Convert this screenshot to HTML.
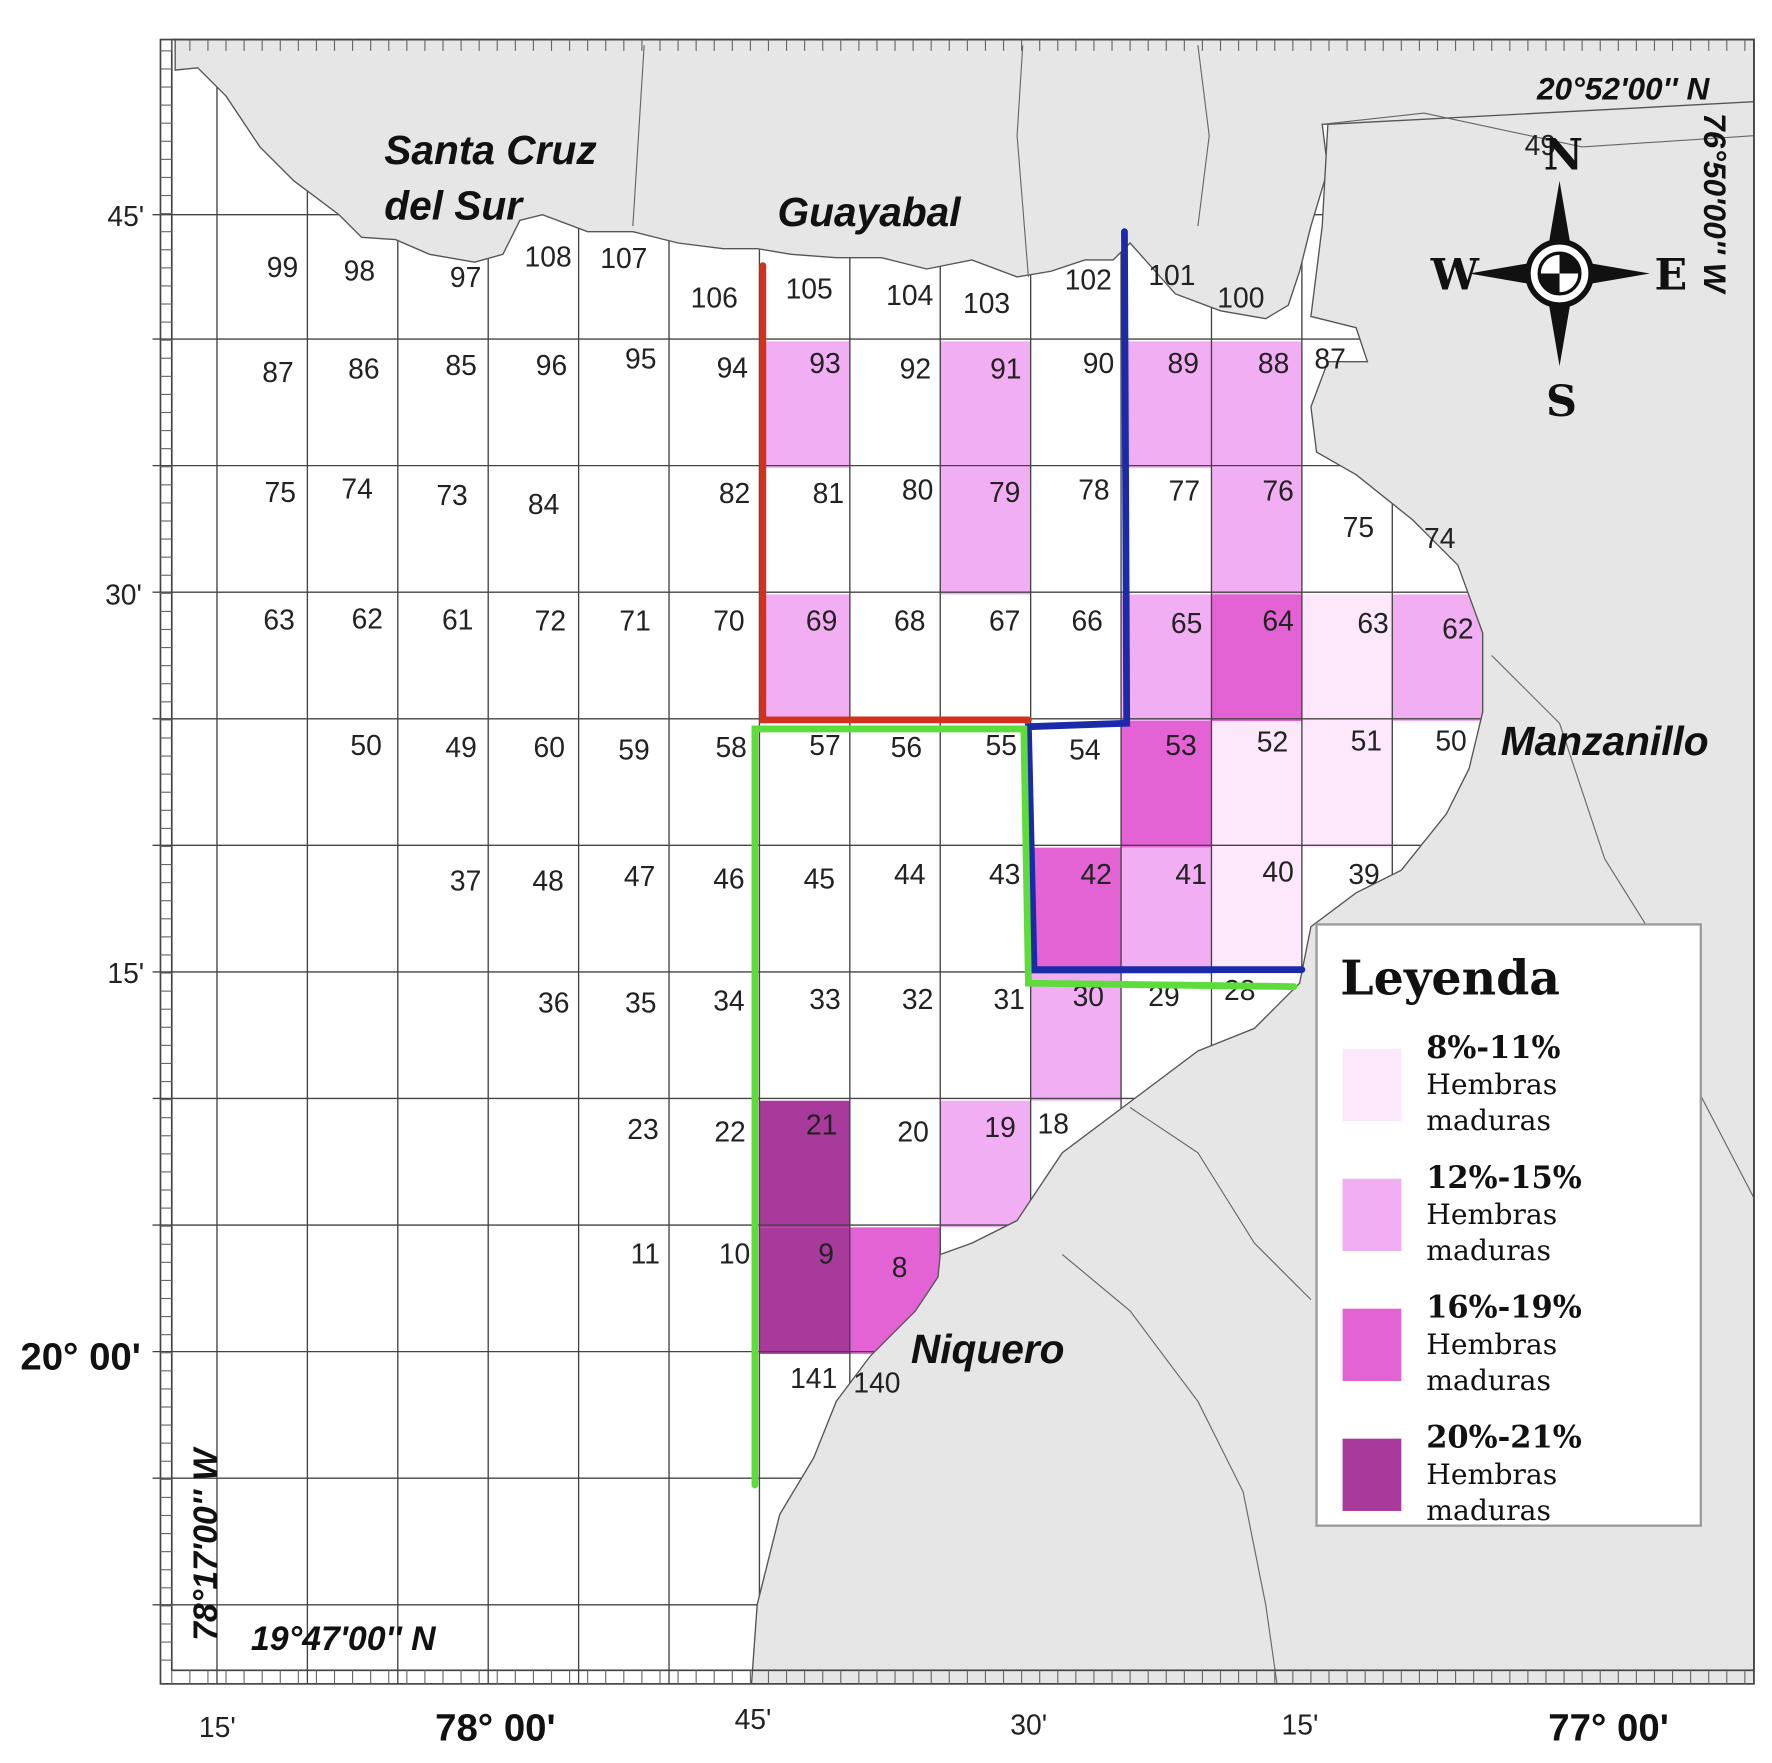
<!DOCTYPE html>
<html><head><meta charset="utf-8"><style>
html,body{margin:0;padding:0;background:#fff;}
svg{display:block;}
.num{font-family:"Liberation Sans",sans-serif;font-size:25px;fill:#222;text-anchor:middle;}
.place{font-family:"Liberation Sans",sans-serif;font-weight:bold;font-style:italic;font-size:36px;fill:#111;}
.ax{font-family:"Liberation Sans",sans-serif;font-size:25px;fill:#222;}
.axb{font-family:"Liberation Sans",sans-serif;font-size:34px;font-weight:bold;fill:#111;}
.leg{font-family:"DejaVu Serif","Liberation Serif",serif;fill:#111;}
</style></head><body>
<svg id="map" width="1772" height="1763" viewBox="0 0 1568 1560" xmlns="http://www.w3.org/2000/svg">
<rect x="0" y="0" width="1568" height="1560" fill="#fff"/>
<g id="cells"></g>
<g id="grid" stroke="#444" stroke-width="1.2"></g>
<g fill="#e6e6e6" stroke="#555" stroke-width="1.2">
<path d="M155,35 L1552,35 L1552,100 L1170,110 L1175,150 L1160,200 L1150,240 L1140,270 L1120,282 L1080,275 L1040,260 L1000,215 L985,230 L960,230 L930,240 L900,245 L860,230 L820,238 L780,228 L740,228 L700,225 L670,220 L640,220 L600,215 L560,205 L520,205 L480,190 L460,195 L445,225 L420,232 L380,225 L350,212 L320,210 L300,190 L260,160 L230,130 L200,85 L175,60 L155,62 Z"/>
<path d="M1552,90 L1552,1490 L665,1490 L670,1420 L690,1340 L720,1290 L740,1240 L770,1200 L810,1160 L830,1130 L832,1110 L860,1100 L900,1080 L940,1020 L1000,975 L1060,930 L1110,910 L1150,870 L1160,820 L1200,790 L1240,770 L1280,720 L1300,680 L1312,630 L1312,560 L1290,500 L1250,460 L1200,420 L1165,400 L1160,360 L1175,320 L1210,320 L1200,290 L1160,280 L1170,200 L1175,110 Z"/>
</g>
<g stroke="#666" stroke-width="1" fill="none">
<path d="M905,40 L900,120 L910,245"/><path d="M1060,40 L1070,120 L1060,200"/><path d="M570,40 L560,200"/>
<path d="M1170,110 L1260,100 L1400,130 L1552,120"/><path d="M1320,580 L1380,640 L1420,760 L1470,840 L1500,960 L1552,1060"/>
<path d="M940,1110 L1000,1160 L1060,1240 L1100,1320 L1120,1420 L1130,1490"/><path d="M1000,980 L1060,1020 L1110,1100 L1160,1150"/>
</g>
<g id="nums"></g>
<g fill="none" stroke="#444" stroke-width="1.5">
<rect x="142" y="35" width="1410" height="1455"/>
<rect x="152" y="35" width="1400" height="1443"/>
</g>
<g id="ticks" stroke="#666" stroke-width="1"></g>
<g fill="none" stroke-width="6" stroke-linecap="round">
<path stroke="#d0321e" d="M675,235 L675,637 L910,637"/>
<path stroke="#1a2aa8" d="M995,205 L997,640 L910,643 L915,858 L1152,858"/>
<path stroke="#5ddc3c" d="M668,1314 L668,645 L906,645 L910,870 L1145,873"/>
</g>
<text class="place" x="340" y="145">Santa Cruz</text>
<text class="place" x="340" y="194">del Sur</text>
<text class="place" x="688" y="200">Guayabal</text>
<text class="place" x="1328" y="668">Manzanillo</text>
<text class="place" x="806" y="1206">Niquero</text>
<text class="ax" x="95" y="200">45'</text>
<text class="ax" x="93" y="535">30'</text>
<text class="ax" x="95" y="870">15'</text>
<text class="axb" x="18" y="1212">20° 00'</text>
<text class="ax" x="176" y="1537">15'</text>
<text class="axb" x="385" y="1540">78° 00'</text>
<text class="ax" x="650" y="1530">45'</text>
<text class="ax" x="894" y="1535">30'</text>
<text class="ax" x="1134" y="1535">15'</text>
<text class="axb" x="1370" y="1540">77° 00'</text>
<text class="place" style="font-size:30px" x="222" y="1460">19°47'00'' N</text>
<text class="place" style="font-size:30px" transform="translate(192,1452) rotate(-90)">78°17'00'' W</text>
<text class="place" style="font-size:28px" x="1360" y="88">20°52'00'' N</text>
<text class="place" style="font-size:28px" transform="translate(1508,100) rotate(90)">76°50'00'' W</text>
<g>
<polygon points="1380,160 1392,230 1380,242 1368,230" fill="#111"/>
<polygon points="1380,324 1392,254 1380,242 1368,254" fill="#111"/>
<polygon points="1300,242 1370,230 1380,242 1370,254" fill="#111"/>
<polygon points="1460,242 1390,230 1380,242 1390,254" fill="#111"/>
<circle cx="1380" cy="242" r="28" fill="#fff" stroke="#111" stroke-width="5"/>
<circle cx="1380" cy="242" r="18" fill="#fff" stroke="#111" stroke-width="3"/>
<path d="M1380,242 L1380,224 A18,18 0 0 1 1398,242 Z" fill="#111"/><path d="M1380,242 L1380,260 A18,18 0 0 1 1362,242 Z" fill="#111"/>
<text class="leg" style="font-weight:bold;font-size:38px" x="1366" y="150">N</text>
<text class="leg" style="font-weight:bold;font-size:38px" x="1368" y="368">S</text>
<text class="leg" style="font-weight:bold;font-size:38px" x="1266" y="256">W</text>
<text class="leg" style="font-weight:bold;font-size:38px" x="1464" y="256">E</text>
</g>
<g>
<rect x="1165" y="818" width="340" height="532" fill="#fff" stroke="#999" stroke-width="2"/>
<text class="leg" x="1186" y="880" style="font-size:42px;font-weight:bold">Leyenda</text>
<g id="legitems"></g>
</g>
<script>
const classColors = ["#fce8fa", "#f2aef2", "#e463d4", "#a83a9c"];
const classLabels = ["8%-11%", "12%-15%", "16%-19%", "20%-21%"];
const cellIds = [93, 91, 89, 88, 79, 76, 69, 65, 64, 63, 62, 53, 52, 51, 42, 41, 40, 30, 21, 19, 9, 8];
const cellCol = [6, 8, 10, 11, 8, 11, 6, 10, 11, 12, 13, 10, 11, 12, 9, 10, 11, 9, 6, 8, 6, 7];
const cellRow = [1, 1, 1, 1, 2, 2, 3, 3, 3, 3, 3, 4, 4, 4, 5, 5, 5, 6, 7, 7, 8, 8];
const cellClass = [1, 1, 1, 1, 1, 1, 1, 1, 2, 0, 1, 2, 0, 0, 2, 1, 0, 1, 3, 1, 3, 2];
const gridXs = [192, 272, 352, 432, 512, 592, 672, 752, 832, 912, 992, 1072, 1152, 1232, 1312, 1392, 1472];
const gridYs = [190, 300, 412, 524, 636, 748, 860, 972, 1084, 1196, 1308, 1420];
const numLabels = ["99","98","97","108","107","106","105","104","103","102","101","100","87","86","85","96","95","94","93","92","91","90","89","88","87","75","74","73","84","82","81","80","79","78","77","76","75","74","63","62","61","72","71","70","69","68","67","66","65","64","63","62","50","49","60","59","58","57","56","55","54","53","52","51","50","37","48","47","46","45","44","43","42","41","40","39","36","35","34","33","32","31","30","29","28","23","22","21","20","19","18","11","10","9","8","141","140","49"];
const numPos = [[250,245],[318,248],[412,254],[485,236],[552,237],[632,272],[716,264],[805,270],[873,277],[963,256],[1037,252],[1098,272],[246,338],[322,335],[408,332],[488,332],[567,326],[648,334],[730,330],[810,335],[890,335],[972,330],[1047,330],[1127,330],[1177,326],[248,444],[316,441],[400,447],[481,455],[650,445],[733,445],[812,442],[889,444],[968,442],[1048,443],[1131,443],[1202,475],[1274,485],[247,557],[325,556],[405,557],[487,558],[562,558],[645,558],[727,558],[805,558],[889,558],[962,558],[1050,560],[1131,558],[1215,560],[1290,565],[324,668],[408,670],[486,670],[561,672],[647,670],[730,668],[802,670],[886,668],[960,672],[1045,668],[1126,665],[1209,664],[1284,664],[412,788],[485,788],[566,784],[645,786],[725,786],[805,782],[889,782],[970,782],[1054,782],[1131,780],[1207,782],[490,896],[567,896],[645,894],[730,893],[812,893],[893,893],[963,890],[1030,890],[1097,885],[569,1008],[646,1010],[727,1004],[808,1010],[885,1006],[932,1003],[571,1118],[650,1118],[731,1118],[796,1130],[720,1228],[776,1232],[1363,137]];
const NS = "http://www.w3.org/2000/svg";
function xScale(c){ return gridXs[0] + c * 80; }
function yScale(r){ return gridYs[0] + r * 112; }
const cellsG = document.getElementById("cells");
for (let i = 0; i < cellIds.length; i++) {
  const r = document.createElementNS(NS, "rect");
  r.setAttribute("x", xScale(cellCol[i]));
  r.setAttribute("y", yScale(cellRow[i]));
  r.setAttribute("width", 80);
  r.setAttribute("height", 112);
  r.setAttribute("fill", classColors[cellClass[i]]);
  
  
  cellsG.appendChild(r);
}
const gridG = document.getElementById("grid");
for (const x of gridXs) {
  const l = document.createElementNS(NS, "line");
  l.setAttribute("x1", x); l.setAttribute("x2", x); l.setAttribute("y1", 35); l.setAttribute("y2", 1490);
  
  
  gridG.appendChild(l);
}
for (const y of gridYs) {
  const l = document.createElementNS(NS, "line");
  l.setAttribute("x1", 135); l.setAttribute("x2", 1552); l.setAttribute("y1", y); l.setAttribute("y2", y);
  
  
  gridG.appendChild(l);
}
const numsG = document.getElementById("nums");
for (let i = 0; i < numLabels.length; i++) {
  const t = document.createElementNS(NS, "text");
  t.setAttribute("class", "num");
  t.setAttribute("x", numPos[i][0]); t.setAttribute("y", numPos[i][1]);
  t.textContent = numLabels[i];
  
  
  numsG.appendChild(t);
}
const tk = document.getElementById("ticks");
for (let x = 152; x < 1552; x += 16) {
  const a = document.createElementNS(NS, "line");
  a.setAttribute("x1", x); a.setAttribute("x2", x); a.setAttribute("y1", 1478); a.setAttribute("y2", 1490);
  tk.appendChild(a);
  const b = document.createElementNS(NS, "line");
  b.setAttribute("x1", x); b.setAttribute("x2", x); b.setAttribute("y1", 35); b.setAttribute("y2", 45);
  tk.appendChild(b);
}
for (let y = 45; y < 1478; y += 16) {
  const a = document.createElementNS(NS, "line");
  a.setAttribute("x1", 142); a.setAttribute("x2", 152); a.setAttribute("y1", y); a.setAttribute("y2", y);
  tk.appendChild(a);
}
const lg = document.getElementById("legitems");
const legY = [928, 1043, 1158, 1273];
for (let i = 0; i < classLabels.length; i++) {
  const r = document.createElementNS(NS, "rect");
  r.setAttribute("x", 1188); r.setAttribute("y", legY[i]); r.setAttribute("width", 52); r.setAttribute("height", 64);
  r.setAttribute("fill", classColors[i]);
  
  
  lg.appendChild(r);
  const lines = [classLabels[i], "Hembras", "maduras"];
  for (let j = 0; j < 3; j++) {
    const t = document.createElementNS(NS, "text");
    t.setAttribute("class", "leg");
    t.setAttribute("x", 1262); t.setAttribute("y", legY[i] + 8 + j * 32);
    t.setAttribute("style", j === 0 ? "font-size:27px;font-weight:bold" : "font-size:25px");
    t.textContent = lines[j];
    
    
    lg.appendChild(t);
  }
}
</script>
</svg>
</body></html>
